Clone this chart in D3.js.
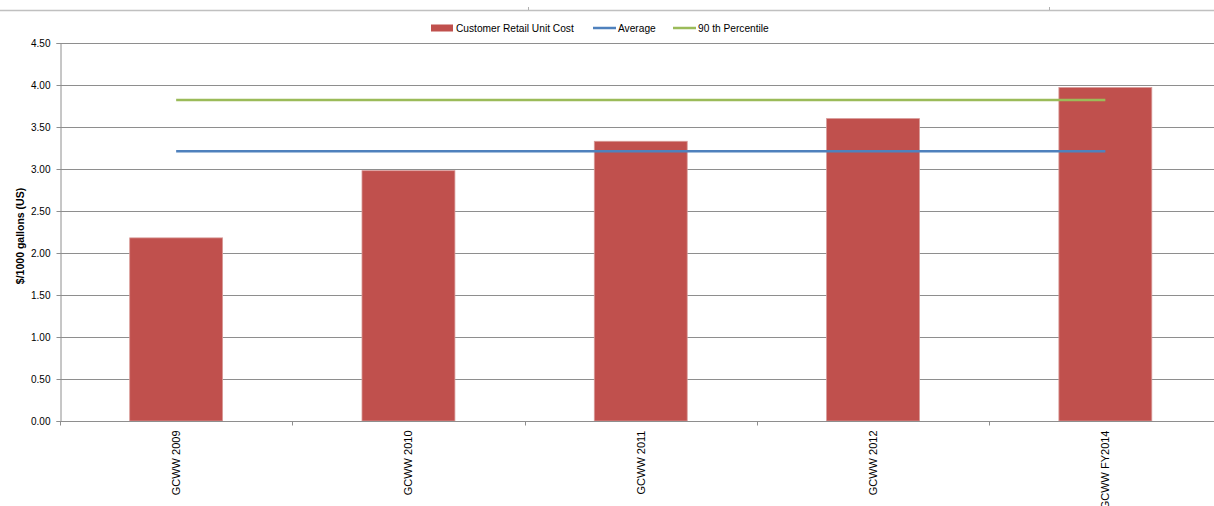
<!DOCTYPE html>
<html>
<head>
<meta charset="utf-8">
<script src="https://cdn.jsdelivr.net/npm/d3@7/dist/d3.min.js"></script>
<style>
  html, body { margin: 0; padding: 0; background: #fff; }
  svg { display: block; }
  text { font-family: "Liberation Sans", Arial, sans-serif; fill: #000; }
</style>
</head>
<body>
<svg id="chart" width="1214" height="506"></svg>
<script>
const categories = ["GCWW 2009", "GCWW 2010", "GCWW 2011", "GCWW 2012", "GCWW FY2014"];
const unitCost = [2.18, 2.98, 3.33, 3.60, 3.97];
const average = [3.21, 3.21, 3.21, 3.21, 3.21];
const percentile90 = [3.82, 3.82, 3.82, 3.82, 3.82];
const yTicks = [0, 0.5, 1.0, 1.5, 2.0, 2.5, 3.0, 3.5, 4.0, 4.5];
const legendItems = ["Customer Retail Unit Cost", "Average", "90 th Percentile"];

(function () {
const svg = d3.select("#chart");
const W = 1214, H = 506;
const mLeft = 60, mRight = 1221.5, mTop = 43, mBottom = 421;

// top frame line (remnant border)
svg.append("line").attr("x1", 0).attr("x2", W).attr("y1", 10.5).attr("y2", 10.5)
  .attr("stroke", "#c0c0c0").attr("stroke-width", 1.5);
[528, 1049].forEach(xx => svg.append("line").attr("x1", xx + 0.5).attr("x2", xx + 0.5)
  .attr("y1", 7).attr("y2", 10).attr("stroke", "#b0b0b0"));

const x = d3.scaleBand().domain(categories).range([mLeft, mRight])
  .paddingInner(0.6).paddingOuter(0.3);
const xEdge = d3.scaleBand().domain(categories).range([mLeft, mRight]).padding(0);
const y = d3.scaleLinear().domain([0, 4.5]).range([mBottom, mTop]);

// gridlines
svg.append("g").selectAll("line").data(yTicks.filter(d => d > 0)).join("line")
  .attr("x1", mLeft).attr("x2", W)
  .attr("y1", d => Math.round(y(d)) + 0.5).attr("y2", d => Math.round(y(d)) + 0.5)
  .attr("stroke", "#8e8e8e").attr("stroke-width", 1);

// bars
svg.append("g").selectAll("rect").data(unitCost).join("rect")
  .attr("x", (d, i) => x(categories[i]))
  .attr("y", d => y(d))
  .attr("width", x.bandwidth())
  .attr("height", d => mBottom - y(d))
  .attr("fill", "#c0504d")
  .attr("stroke", "#d89a98").attr("stroke-width", 0.8);

// y axis
const yAxis = d3.axisLeft(y).tickValues(yTicks).tickFormat(d3.format(".2f")).tickSize(4).tickPadding(6);
const gy = svg.append("g").attr("transform", `translate(${mLeft + 0.5},0)`).call(yAxis);
gy.select(".domain").attr("stroke", "#8e8e8e");
gy.selectAll(".tick line").attr("stroke", "#8e8e8e");
gy.selectAll(".tick text").attr("font-size", "10px").attr("font-family", "Liberation Sans, Arial, sans-serif").attr("fill", "#000");

// x axis
const gx = svg.append("g").attr("transform", `translate(0,${mBottom + 0.5})`);
gx.append("line").attr("x1", mLeft).attr("x2", W).attr("y1", 0).attr("y2", 0).attr("stroke", "#8e8e8e");
gx.selectAll("line.t").data(categories.map(c => xEdge(c)).concat([mRight])).join("line")
  .attr("class", "t")
  .attr("x1", d => Math.round(d) + 0.5).attr("x2", d => Math.round(d) + 0.5)
  .attr("y1", 0).attr("y2", 4).attr("stroke", "#8e8e8e");
gx.selectAll("text").data(categories).join("text")
  .attr("transform", d => `translate(${x(d) + x.bandwidth() / 2 + 4},9) rotate(-90)`)
  .attr("text-anchor", "end")
  .attr("font-size", "11px")
  .text(d => d);

// lines
const lineGen = d3.line().x((d, i) => x(categories[i]) + x.bandwidth() / 2).y(d => y(d));
svg.append("path").datum(average).attr("d", lineGen)
  .attr("fill", "none").attr("stroke", "#4f81bd").attr("stroke-width", 2.5);
svg.append("path").datum(percentile90).attr("d", lineGen)
  .attr("fill", "none").attr("stroke", "#9bbb59").attr("stroke-width", 2.5);

// y axis title
svg.append("text")
  .attr("transform", `translate(24,${(mTop + mBottom) / 2 + 4}) rotate(-90)`)
  .attr("text-anchor", "middle").attr("font-size", "10.5px").attr("font-weight", "bold")
  .text("$/1000 gallons (US)");

// legend
const lg = svg.append("g").attr("font-size", "10.2px");
const ly = 28;
lg.append("rect").attr("x", 431).attr("y", ly - 3.5).attr("width", 22).attr("height", 7).attr("fill", "#c0504d");
lg.append("text").attr("x", 456).attr("y", ly + 3.5).text(legendItems[0]);
lg.append("line").attr("x1", 593).attr("x2", 616).attr("y1", ly).attr("y2", ly).attr("stroke", "#4f81bd").attr("stroke-width", 2.5);
lg.append("text").attr("x", 618).attr("y", ly + 3.5).text(legendItems[1]);
lg.append("line").attr("x1", 673).attr("x2", 696).attr("y1", ly).attr("y2", ly).attr("stroke", "#9bbb59").attr("stroke-width", 2.5);
lg.append("text").attr("x", 698).attr("y", ly + 3.5).text(legendItems[2]);
})();
</script>
</body>
</html>
